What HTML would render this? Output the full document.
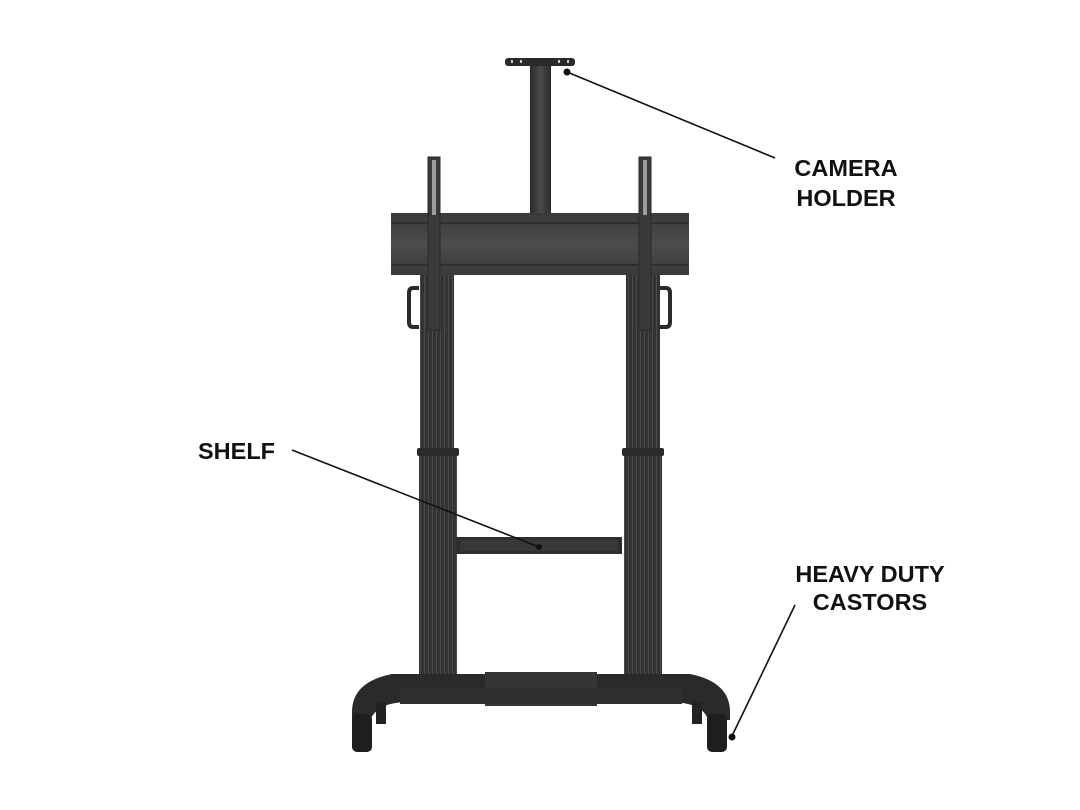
<!DOCTYPE html>
<html><head><meta charset="utf-8"><style>
html,body{margin:0;padding:0;background:#fff;}
svg{display:block;}
text{font-family:"Liberation Sans",Arial,sans-serif;font-weight:bold;fill:#111;font-size:23.5px;}
</style></head><body>
<svg width="1080" height="810" viewBox="0 0 1080 810" xmlns="http://www.w3.org/2000/svg">
<defs>
<linearGradient id="col" x1="0" x2="1">
<stop offset="0" stop-color="#2a2a2a"/><stop offset="0.5" stop-color="#4a4a4a"/><stop offset="1" stop-color="#2c2c2c"/>
</linearGradient>
<linearGradient id="bar" x1="0" y1="0" x2="0" y2="1">
<stop offset="0" stop-color="#3a3a3a"/><stop offset="0.5" stop-color="#4c4c4c"/><stop offset="1" stop-color="#3a3a3a"/>
</linearGradient>
<pattern id="ribs" width="4" height="10" patternUnits="userSpaceOnUse">
<rect width="4" height="10" fill="#333"/><rect width="1" height="10" fill="#4a4a4a"/>
</pattern>
</defs>
<rect x="505" y="58" width="70" height="8" rx="3" fill="#2a2a2a"/>
<rect x="511" y="60" width="2" height="3" fill="#ccc"/><rect x="520" y="60" width="2" height="3" fill="#ccc"/>
<rect x="558" y="60" width="2" height="3" fill="#ccc"/><rect x="567" y="60" width="2" height="3" fill="#ccc"/>
<rect x="530" y="66" width="21" height="148" fill="url(#col)"/>
<rect x="420" y="275" width="34" height="175" fill="url(#ribs)"/>
<rect x="626" y="275" width="34" height="175" fill="url(#ribs)"/>
<rect x="391" y="213" width="298" height="62" fill="url(#bar)"/>
<rect x="391" y="222" width="298" height="2" fill="#2e2e2e"/>
<rect x="391" y="264" width="298" height="2" fill="#2e2e2e"/>
<rect x="428" y="157" width="12" height="173" fill="#3a3a3a" stroke="#2a2a2a"/>
<rect x="432" y="160" width="4" height="55" fill="#ddd" opacity="0.6"/>
<rect x="639" y="157" width="12" height="173" fill="#3a3a3a" stroke="#2a2a2a"/>
<rect x="643" y="160" width="4" height="55" fill="#ddd" opacity="0.6"/>
<path d="M419 288 h-6 q-4 0 -4 5 v29 q0 5 4 5 h6" fill="none" stroke="#2a2a2a" stroke-width="4"/>
<path d="M660 288 h6 q4 0 4 5 v29 q0 5 -4 5 h-6" fill="none" stroke="#2a2a2a" stroke-width="4"/>
<rect x="417" y="448" width="42" height="8" rx="2" fill="#2a2a2a"/>
<rect x="419" y="456" width="38" height="228" fill="url(#ribs)"/>
<rect x="622" y="448" width="42" height="8" rx="2" fill="#2a2a2a"/>
<rect x="624" y="456" width="38" height="228" fill="url(#ribs)"/>
<rect x="456" y="537" width="166" height="17" fill="#2e2e2e"/>
<rect x="460" y="540" width="158" height="11" fill="#383838"/>
<circle cx="539" cy="547" r="3" fill="#111"/>
<path d="M352 712 q0 -30 40 -38 h298 q40 8 40 38 v8 h-22 q-5 -18 -40 -18 h-260 q-30 0 -38 18 h-18 z" fill="#2a2a2a"/>
<rect x="485" y="672" width="112" height="34" fill="#353535"/>
<rect x="400" y="688" width="282" height="16" fill="#303030"/>
<rect x="352" y="714" width="20" height="38" rx="5" fill="#1e1e1e"/>
<rect x="376" y="702" width="10" height="22" fill="#222"/>
<rect x="707" y="714" width="20" height="38" rx="5" fill="#1e1e1e"/>
<rect x="692" y="702" width="10" height="22" fill="#222"/>
<line x1="567" y1="72" x2="775" y2="158" stroke="#111" stroke-width="1.6"/>
<circle cx="567" cy="72" r="3.5" fill="#111"/>
<line x1="292" y1="450" x2="539" y2="547" stroke="#111" stroke-width="1.6"/>
<line x1="795" y1="605" x2="732" y2="736" stroke="#111" stroke-width="1.6"/>
<circle cx="732" cy="737" r="3.5" fill="#111"/>
<text x="846" y="176" text-anchor="middle">CAMERA</text>
<text x="846" y="206" text-anchor="middle">HOLDER</text>
<text x="198" y="459">SHELF</text>
<text x="870" y="582" text-anchor="middle">HEAVY DUTY</text>
<text x="870" y="610" text-anchor="middle">CASTORS</text>
</svg>
</body></html>
